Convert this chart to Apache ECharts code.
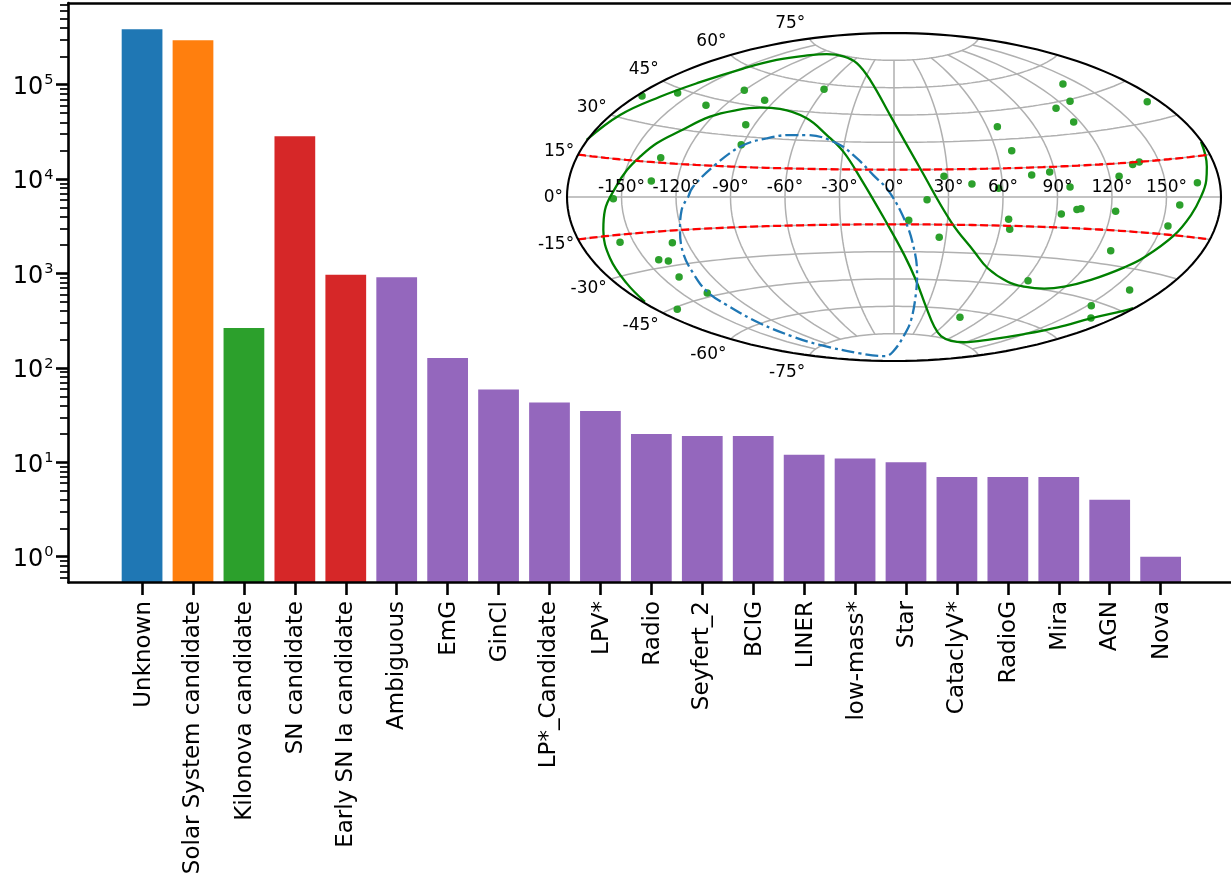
<!DOCTYPE html>
<html>
<head>
<meta charset="utf-8">
<style>html,body{margin:0;padding:0;background:#fff}#c{width:1231px;height:879px}</style>
<script src="https://cdn.jsdelivr.net/npm/echarts@6/dist/echarts.min.js"></script>
</head>
<body>
<div id="c"></div>
<script>
const categories = ['Unknown','Solar System candidate','Kilonova candidate','SN candidate','Early SN Ia candidate','Ambiguous','EmG','GinCl','LP*_Candidate','LPV*','Radio','Seyfert_2','BCIG','LINER','low-mass*','Star','CataclyV*','RadioG','Mira','AGN','Nova'];
const counts = [387000,295000,265,28500,970,915,127,59,43,35,20,19,19,12,11,10,7,7,7,4,1];
const barColors = ['#1f77b4','#ff7f0e','#2ca02c','#d62728','#d62728','#9467bd','#9467bd','#9467bd','#9467bd','#9467bd','#9467bd','#9467bd','#9467bd','#9467bd','#9467bd','#9467bd','#9467bd','#9467bd','#9467bd','#9467bd','#9467bd'];
const yMajorTicks = [1,10,100,1000,10000,100000];
const yMinorTicks = [0.6,0.7,0.8,0.9,2,3,4,5,6,7,8,9,20,30,40,50,60,70,80,90,200,300,400,500,600,700,800,900,2000,3000,4000,5000,6000,7000,8000,9000,20000,30000,40000,50000,60000,70000,80000,90000,200000,300000,400000,500000,600000,700000];
// Labels whose ink has no descender sit a little further right, as in the reference
const inkCentred = ['Unknown','Kilonova candidate','SN candidate','EmG','GinCl','LPV*','Radio','BCIG','LINER','low-mass*','Star','RadioG','Mira','Nova'];

// Inset: longitude / latitude grid ticks (degrees)
const lonTicks = [-150,-120,-90,-60,-30,0,30,60,90,120,150];
const latTicks = [-75,-60,-45,-30,-15,0,15,30,45,60,75];
const bandLats = [15,-15];

// Inset marks in Aitoff plane coordinates (x: -180..180, y: -90..90)
const sources = [[-138.7,55.4],[-119.1,57.1],[-103.5,50.3],[-82.4,58.6],[-71.2,53.1],[-38.5,59.1],[-81.6,39.7],[-84.1,28.7],[-128.4,21.6],[-133.6,8.8],[-154.5,-0.9],[-150.8,-24.9],[-122.0,-25.1],[-129.5,-34.4],[-124.2,-35.1],[-118.3,-43.9],[-102.8,-52.7],[-119.3,-61.6],[93.0,62.0],[96.9,52.5],[89.2,48.7],[98.9,41.2],[139.4,52.3],[56.9,38.6],[64.8,25.4],[135.0,19.2],[131.4,17.9],[85.7,13.7],[75.8,12.1],[27.5,11.4],[123.9,11.4],[42.9,7.1],[167.0,7.8],[96.9,5.5],[57.6,4.8],[18.2,-1.5],[8.1,-12.8],[24.9,-22.1],[63.1,-12.2],[63.7,-17.7],[92.1,-9.3],[100.7,-6.8],[102.9,-6.4],[122.0,-7.8],[157.3,-4.4],[150.8,-15.9],[119.3,-29.5],[73.8,-45.9],[129.7,-51.0],[108.6,-59.7],[108.4,-66.4],[36.3,-66.0]];
const greenCurveA = [[-169.2,31.3],[-150.8,45.0],[-128.8,55.0],[-106.8,63.0],[-83.0,70.5],[-64.6,75.2],[-46.2,77.8],[-37.0,78.4],[-27.9,77.2],[-20.5,73.5],[-13.0,64.0],[-1.7,44.1],[14.9,14.8],[31.4,-13.6],[44.2,-30.0],[51.6,-39.1],[62.6,-46.5],[71.7,-49.2],[82.7,-50.3],[93.7,-49.2],[108.4,-45.5],[126.8,-38.6],[137.8,-33.1],[154.3,-20.9],[163.5,-9.9],[169.0,0.2],[171.9,9.3],[172.2,16.6],[171.4,23.0],[169.0,30.3]];
const greenCurveB = [[-137.1,-57.5],[-147.1,-47.4],[-156.3,-33.6],[-160.0,-18.1],[-159.1,-7.1],[-153.0,5.7],[-147.0,14.8],[-139.8,22.1],[-130.6,29.5],[-117.8,36.2],[-101.3,44.1],[-86.6,47.7],[-73.8,49.0],[-62.8,48.3],[-48.1,43.2],[-37.0,34.0],[-27.9,24.9],[-17.8,9.3],[-5.0,-12.5],[5.7,-31.9],[12.1,-45.7],[17.6,-60.2],[22.2,-71.2],[25.9,-76.3],[31.4,-78.9],[38.7,-79.7],[53.4,-78.1],[71.7,-75.2],[90.1,-71.5],[108.4,-66.6],[126.8,-62.4],[131.6,-60.9]];
const blueCurve = [[-113.2,0.2],[-110.5,5.7],[-98.5,17.6],[-83.8,28.0],[-70.1,32.2],[-57.2,34.0],[-48.1,34.0],[-31.5,29.5],[-20.5,21.3],[-11.4,12.0],[-3.1,3.5],[5.7,-12.2],[10.3,-25.4],[12.7,-41.9],[12.1,-52.8],[9.4,-67.5],[5.7,-75.7],[-0.6,-84.9],[-5.0,-87.3],[-18.7,-85.8],[-40.7,-81.2],[-55.4,-76.7],[-73.8,-69.3],[-92.1,-59.3],[-102.8,-52.0],[-110.5,-41.9],[-116.0,-30.9],[-117.8,-18.1],[-116.9,-7.1],[-113.2,0.2]];

// Aitoff projection, output in degrees
function aitoff(lon, lat) {
  const l = lon * Math.PI / 360, p = lat * Math.PI / 180;
  const a = Math.acos(Math.cos(p) * Math.cos(l));
  const s = a < 1e-9 ? 1 : Math.sin(a) / a;
  return [2 * Math.cos(p) * Math.sin(l) / s * 180 / Math.PI, Math.sin(p) / s * 180 / Math.PI];
}
function parallel(lat) { const r = []; for (let i = -180; i <= 180; i += 4) r.push(aitoff(i, lat)); return r; }
function meridian(lon) { const r = []; for (let i = -75; i <= 75; i += 3) r.push(aitoff(lon, i)); return r; }
function outline() { const r = []; for (let i = 0; i <= 180; i++) { const t = i * Math.PI / 90; r.push([180 * Math.cos(t), 90 * Math.sin(t)]); } return r; }

const FONT = 'DejaVu Sans';
const yMin = 0.533, yMax = 733500;
const insetAxes = { xAxisIndex: 3, yAxisIndex: 3, silent: true };
const gridLine = (d) => Object.assign({ type: 'line', data: d, showSymbol: false, symbol: 'none', z: 3, clip: false, lineStyle: { color: '#b0b0b0', width: 1.5 } }, insetAxes);
const curve = (d, color, width, type, z, smooth) => Object.assign({ type: 'line', data: d, showSymbol: false, symbol: 'none', z: z, smooth: smooth, clip: false, lineStyle: { color: color, width: width, type: type } }, insetAxes);

const inset = [];
latTicks.forEach(v => inset.push(gridLine(parallel(v))));
lonTicks.forEach(v => inset.push(gridLine(meridian(v))));
inset.push(curve(outline(), '#000', 2.1, 'solid', 8, false));
inset.push(Object.assign({ type: 'scatter', data: sources, symbolSize: 7.5, z: 5, itemStyle: { color: '#2ca02c', opacity: 1 } }, insetAxes));
inset.push(curve(greenCurveA, '#008000', 2.3, 'solid', 6, 0.4));
inset.push(curve(greenCurveB, '#008000', 2.3, 'solid', 6, 0.4));
bandLats.forEach(v => inset.push(curve(parallel(v), '#ff0000', 2.3, [8, 3.5], 7, false)));
inset.push(curve(blueCurve, '#1f77b4', 2.3, [13, 4, 3, 4], 7, 0.4));
// Longitude labels on the equator
inset.push(Object.assign({
  type: 'scatter', symbolSize: 0, z: 9, itemStyle: { opacity: 1 },
  data: lonTicks.map(v => ({ value: aitoff(v, 0), name: v + '°' })),
  label: { show: true, position: 'top', distance: 1, formatter: p => p.name, color: '#000', opacity: 1, fontFamily: FONT, fontSize: 17 }
}, insetAxes));
// Latitude labels on the rim
inset.push(Object.assign({
  type: 'scatter', symbolSize: 0, z: 9, itemStyle: { opacity: 1 },
  data: latTicks.map(v => ({
    value: aitoff(-180, v), name: v + '°',
    label: { offset: [0, 1 - 17 * Math.sin(v * Math.PI / 180)] }
  })),
  label: { show: true, position: 'left', distance: 4, formatter: p => p.name, color: '#000', opacity: 1, fontFamily: FONT, fontSize: 17 }
}, insetAxes));

// Bars run from the bottom of the log axis, read through the chart's own scales
function renderBar(params, api) {
  const i = api.value(0), v = api.value(1);
  const top = api.coord([i, v]), base = api.coord([i, yMin]);
  const w = api.size([1, 0])[0] * 0.8;
  return { type: 'rect', shape: { x: top[0] - w / 2, y: top[1], width: w, height: base[1] - top[1] }, style: { fill: barColors[params.dataIndex] } };
}

const option = {
  animation: false,
  backgroundColor: '#fff',
  grid: [
    { left: 68.5, top: 3, width: 1175, height: 579.5 },
    { left: 116.6, top: 3, width: 1069.5, height: 579.5 },
    { left: 567, top: 33, width: 654, height: 328 }
  ],
  xAxis: [
    { gridIndex: 0, type: 'value', position: 'bottom', min: 0, max: 1, z: 6, axisLine: { show: true, onZero: false, lineStyle: { color: '#000', width: 2.6 } }, axisTick: { show: false }, axisLabel: { show: false }, splitLine: { show: false } },
    { gridIndex: 0, type: 'value', position: 'top', min: 0, max: 1, z: 6, axisLine: { show: true, onZero: false, lineStyle: { color: '#000', width: 2.6 } }, axisTick: { show: false }, axisLabel: { show: false }, splitLine: { show: false } },
    { gridIndex: 1, type: 'category', data: categories, position: 'bottom', z: 6,
      axisLine: { show: false, onZero: false },
      axisTick: { show: true, alignWithLabel: true, length: 12.5, lineStyle: { color: '#000', width: 2.6 } },
      axisLabel: { interval: 0, rotate: 90, margin: 18.5, color: '#000', fontFamily: FONT, fontSize: 23,
        formatter: v => (inkCentred.indexOf(v) >= 0 ? '{n|' : '{d|') + v + '}',
        rich: { n: { fontFamily: FONT, fontSize: 23, color: '#000', padding: [3, 0, 0, 0] }, d: { fontFamily: FONT, fontSize: 23, color: '#000' } } } },
    { gridIndex: 2, type: 'value', show: false, min: -180, max: 180 }
  ],
  yAxis: [
    { gridIndex: 0, type: 'log', logBase: 10, min: yMin, max: yMax, position: 'left', z: 6,
      axisLine: { show: true, onZero: false, lineStyle: { color: '#000', width: 2.6 } },
      axisTick: { show: true, length: 12.5, customValues: yMajorTicks, lineStyle: { color: '#000', width: 2.6 } },
      splitLine: { show: false },
      axisLabel: { margin: 15, customValues: yMajorTicks, color: '#000', fontFamily: FONT,
        formatter: v => '{a|10}{b|' + Math.round(Math.log10(v)) + '}',
        rich: { a: { fontFamily: FONT, fontSize: 24, color: '#000', padding: [6, 0, 0, 0] }, b: { fontFamily: FONT, fontSize: 14.5, color: '#000', padding: [0, 0, 8, 1] } } } },
    { gridIndex: 0, type: 'log', logBase: 10, min: yMin, max: yMax, position: 'left', z: 6,
      axisLine: { show: false, onZero: false },
      axisTick: { show: true, length: 8.5, customValues: yMinorTicks, lineStyle: { color: '#000', width: 1.7 } },
      splitLine: { show: false }, axisLabel: { show: false } },
    { gridIndex: 1, type: 'log', logBase: 10, min: yMin, max: yMax, show: false, splitLine: { show: false } },
    { gridIndex: 2, type: 'value', show: false, min: -90, max: 90 }
  ],
  series: [
    { type: 'custom', xAxisIndex: 2, yAxisIndex: 2, silent: true, z: 2, renderItem: renderBar, encode: { x: 0, y: 1 },
      data: counts.map((v, i) => [categories[i], v]) }
  ].concat(inset)
};
const chart = echarts.init(document.getElementById('c'), null, { renderer: 'canvas', width: 1231, height: 879 });
chart.setOption(option);
</script>
</body>
</html>
